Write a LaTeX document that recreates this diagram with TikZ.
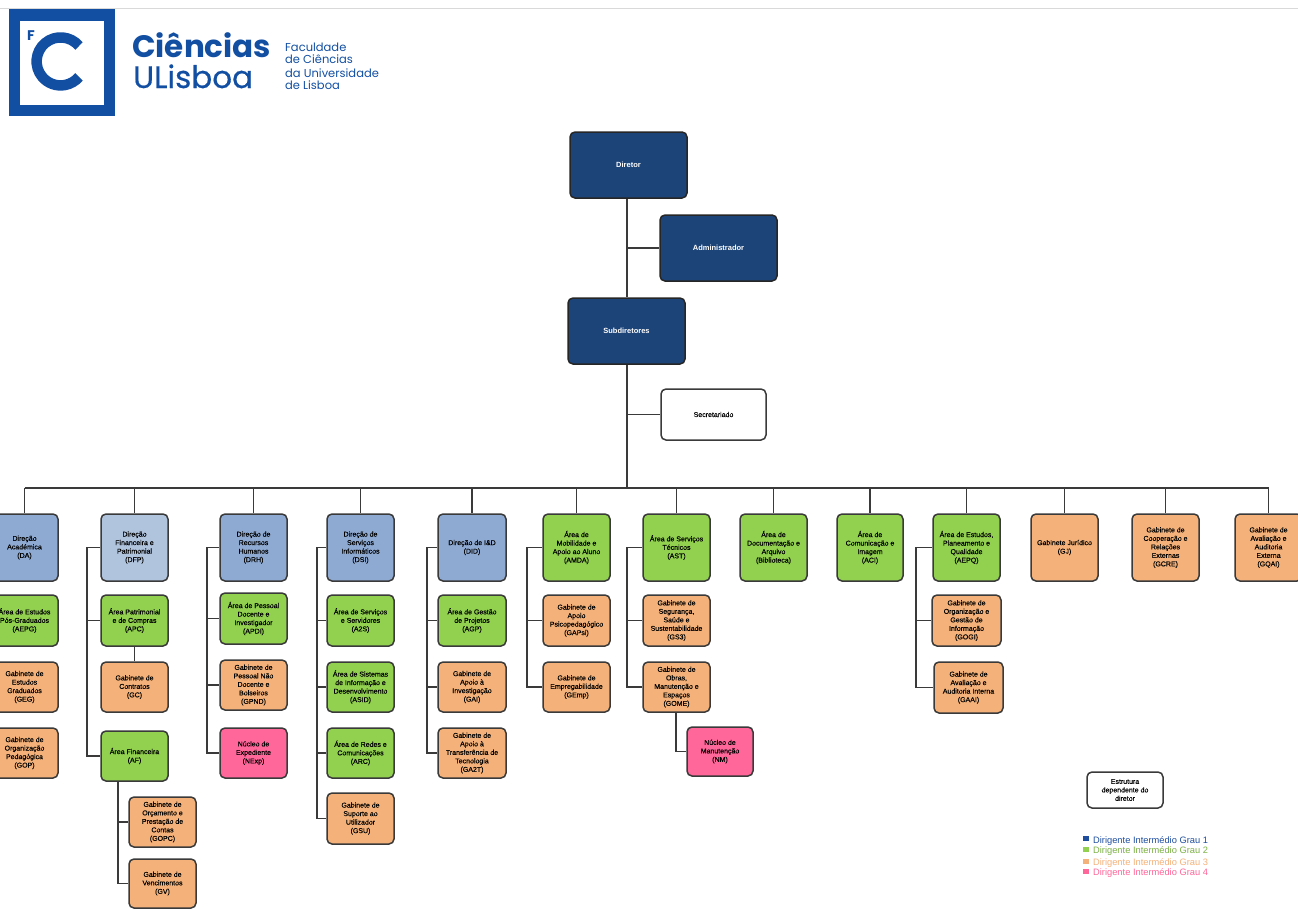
\documentclass[tikz,border=0pt]{standalone}
\usepackage{fontspec}
\setmainfont{Liberation Sans}
\newfontfamily\boxfont[FakeBold=0.25]{Liberation Sans}
\newfontfamily\logofont{Poppins}
\newfontfamily\logomed[FakeBold=0.5]{Poppins}
\definecolor{dkblue}{HTML}{1C4479}
\definecolor{midblue}{HTML}{8FAAD2}
\definecolor{ltblue}{HTML}{B0C4DE}
\definecolor{grn}{HTML}{92D050}
\definecolor{org}{HTML}{F4B27A}
\definecolor{pnk}{HTML}{FF6699}
\definecolor{ln}{HTML}{3A3A3A}
\definecolor{logoblue}{HTML}{124FA3}
\definecolor{lgblue}{HTML}{1F4E9F}
\tikzset{
  box/.style={draw=ln,line width=1.5pt,rounded corners=5pt,align=center,inner sep=0pt,
    font=\boxfont\fontsize{7}{8.5}\selectfont,text=black},
  top/.style={box,fill=dkblue,draw=black!85,text=white,font=\fontsize{7.5}{9}\selectfont\bfseries},
  dirb/.style={box,fill=midblue},
  dirl/.style={box,fill=ltblue},
  gb/.style={box,fill=grn},
  ob/.style={box,fill=org},
  pb/.style={box,fill=pnk},
  wb/.style={box,fill=white},
  conn/.style={draw=ln,line width=1.5pt},
  legend/.style={anchor=west,inner sep=0pt,font=\fontsize{9.3}{10}\selectfont},
  logotxt/.style={anchor=base west,inner sep=0pt,text=logoblue},
  logosmall/.style={logotxt,font=\logofont\fontsize{11.5}{12}\selectfont},
}
\newcommand{\bx}[7]{%
  \pgfmathsetmacro{\cxx}{(#3+#5)/2}\pgfmathsetmacro{\cyy}{(#4+#6)/2}%
  \pgfmathsetmacro{\wdd}{#5-#3}\pgfmathsetmacro{\htt}{#6-#4}%
  \node[#1,minimum width=\wdd pt,minimum height=\htt pt] (#2) at (\cxx,\cyy) {#7};}
% bus: #1 x of the bus, #2 parent, #3 comma list of children, #4 last child
\newcommand{\bus}[4]{%
  \coordinate (bx#2) at (#1,0);
  \draw[conn] (#2.west) -- (#2.west -| bx#2) -- (#4.west -| bx#2) -- (#4.west);
  \foreach \c in {#3} {\draw[conn] (\c.west -| bx#2) -- (\c.west);}}
\begin{document}
\begin{tikzpicture}[x=1pt,y=-1pt]
\useasboundingbox (0,0) rectangle (1298,908);
\clip (0,0) rectangle (1298,908);
\fill[white] (0,0) rectangle (1298,908);
\draw[black!15,line width=1pt] (0,8.5) -- (1298,8.5);
% logo
\fill[logoblue] (9,9) rectangle (115,116);
\fill[white] (20,21) rectangle (104,105);
\draw[logoblue,line width=10.5pt] (79,46) arc[start angle=-40,end angle=-320,radius=24];
\node[logotxt,font=\logofont\fontsize{14}{14}\selectfont\bfseries] (lf) at (27,40) {F};
\node[logotxt,font=\logofont\fontsize{31}{31}\selectfont\bfseries] (l1) at (132,57) {Ciências};
\node[logotxt,font=\logomed\fontsize{31}{31}\selectfont] (l2) at (133,88) {ULisboa};
\node[logosmall] (l3) at (285,51) {Faculdade};
\node[logosmall] (l4) at (285,63) {de Ciências};
\node[logosmall] (l5) at (285,77) {da Universidade};
\node[logosmall] (l6) at (285,89) {de Lisboa};
% top
\bx{top}{dir}{570}{132}{687}{198}{Diretor}
\bx{top}{adm}{660}{215}{777}{281}{Administrador}
\bx{top}{sub}{568}{298}{685}{364}{Subdiretores}
\bx{wb}{sec}{661}{389}{766}{440}{Secretariado}
% column 1
\bx{dirb}{da}{-9}{514}{58}{581}{Direção\\Académica\\(DA)}
\bx{gb}{aepg}{-9}{595}{58}{646}{Área de Estudos\\Pós-Graduados\\(AEPG)}
\bx{ob}{geg}{-9}{662}{58}{712}{Gabinete de\\Estudos\\Graduados\\(GEG)}
\bx{ob}{gop}{-9}{728}{58}{778}{Gabinete de\\Organização\\Pedagógica\\(GOP)}
% column 2
\bx{dirl}{dfp}{101}{514}{168}{581}{Direção\\Financeira e\\Patrimonial\\(DFP)}
\bx{gb}{apc}{101}{595}{168}{646}{Área Patrimonial\\e de Compras\\(APC)}
\bx{ob}{gc}{101}{662}{168}{712}{Gabinete de\\Contratos\\(GC)}
\bx{gb}{af}{101}{731}{168}{781}{Área Financeira\\(AF)}
\bx{ob}{gopc}{129}{797}{196}{847}{Gabinete de\\Orçamento e\\Prestação de\\Contas\\(GOPC)}
\bx{ob}{gv}{129}{859}{196}{908}{Gabinete de\\Vencimentos\\(GV)}
% column 3
\bx{dirb}{drh}{220}{514}{287}{581}{Direção de\\Recursos\\Humanos\\(DRH)}
\bx{gb}{apdi}{220}{593}{287}{644}{Área de Pessoal\\Docente e\\Investigador\\(APDI)}
\bx{ob}{gpnd}{220}{660}{287}{710}{Gabinete de\\Pessoal Não\\Docente e\\Bolseiros\\(GPND)}
\bx{pb}{nexp}{220}{728}{287}{778}{Núcleo de\\Expediente\\(NExp)}
% column 4
\bx{dirb}{dsi}{327}{514}{394}{581}{Direção de\\Serviços\\Informáticos\\(DSI)}
\bx{gb}{a2s}{327}{595}{394}{646}{Área de Serviços\\e Servidores\\(A2S)}
\bx{gb}{asid}{327}{662}{394}{712}{Área de Sistemas\\de Informação e\\Desenvolvimento\\(ASID)}
\bx{gb}{arc}{327}{728}{394}{778}{Área de Redes e\\Comunicações\\(ARC)}
\bx{ob}{gsu}{327}{793}{394}{844}{Gabinete de\\Suporte ao\\Utilizador\\(GSU)}
% column 5
\bx{dirb}{did}{438}{514}{506}{581}{Direção de I\&D\\(DID)}
\bx{gb}{agp}{438}{595}{506}{646}{Área de Gestão\\de Projetos\\(AGP)}
\bx{ob}{gai}{438}{662}{506}{712}{Gabinete de\\Apoio à\\Investigação\\(GAI)}
\bx{ob}{ga2t}{438}{728}{506}{778}{Gabinete de\\Apoio à\\Transferência de\\Tecnologia\\(GA2T)}
% column 6
\bx{gb}{amda}{543}{514}{610}{581}{Área de\\Mobilidade e\\Apoio ao Aluno\\(AMDA)}
\bx{ob}{gapsi}{543}{595}{610}{646}{Gabinete de\\Apoio\\Psicopedagógico\\(GAPsi)}
\bx{ob}{gemp}{543}{662}{610}{712}{Gabinete de\\Empregabilidade\\(GEmp)}
% column 7
\bx{gb}{ast}{643}{514}{710}{581}{Área de Serviços\\Técnicos\\(AST)}
\bx{ob}{gs3}{643}{595}{710}{646}{Gabinete de\\Segurança,\\Saúde e\\Sustentabilidade\\(GS3)}
\bx{ob}{gome}{643}{662}{710}{712}{Gabinete de\\Obras,\\Manutenção e\\Espaços\\(GOME)}
\bx{pb}{nm}{687}{727}{753}{776}{Núcleo de\\Manutenção\\(NM)}
% others
\bx{gb}{bib}{740}{514}{807}{581}{Área de\\Documentação e\\Arquivo\\(Biblioteca)}
\bx{gb}{aci}{837}{514}{903}{581}{Área de\\Comunicação e\\Imagem\\(ACI)}
\bx{gb}{aepq}{933}{514}{1000}{581}{Área de Estudos,\\Planeamento e\\Qualidade\\(AEPQ)}
\bx{ob}{gogi}{932}{595}{1001}{646}{Gabinete de\\Organização e\\Gestão de\\Informação\\(GOGI)}
\bx{ob}{gaai}{934}{662}{1003}{713}{Gabinete de\\Avaliação e\\Auditoria Interna\\(GAAI)}
\bx{ob}{gj}{1031}{514}{1098}{581}{Gabinete Jurídico\\(GJ)}
\bx{ob}{gcre}{1132}{514}{1199}{581}{Gabinete de\\Cooperação e\\Relações\\Externas\\(GCRE)}
\bx{ob}{gqai}{1235}{514}{1302}{581}{Gabinete de\\Avaliação e\\Auditoria\\Externa\\(GQAI)}
\bx{wb}{est}{1087}{772}{1163}{808}{Estrutura\\dependente do\\diretor}
% trunk
\coordinate (trunk) at (627,488);
\draw[conn] (dir.south -| trunk) -- (sub.north -| trunk);
\draw[conn] (adm.west -| trunk) -- (adm.west);
\draw[conn] (sub.south -| trunk) -- (trunk);
\draw[conn] (sec.west -| trunk) -- (sec.west);
\draw[conn] (trunk -| da.north) -- (trunk -| gqai.north);
\foreach \n in {da,dfp,drh,dsi,did,amda,ast,bib,aci,aepq,gj,gcre,gqai}
  {\draw[conn] (trunk -| \n.north) -- (\n.north);}
% buses
\bus{87}{dfp}{apc}{af}
\draw[conn] (apc.south) -- (gc.north);
\coordinate (afb) at (118,0);
\draw[conn] (af.south -| afb) -- (gv.west -| afb) -- (gv.west);
\draw[conn] (gopc.west -| afb) -- (gopc.west);
\bus{207}{drh}{apdi,gpnd}{nexp}
\bus{317}{dsi}{a2s,asid,arc}{gsu}
\bus{427}{did}{agp,gai}{ga2t}
\bus{527}{amda}{gapsi}{gemp}
\bus{627}{ast}{gs3}{gome}
\bus{916}{aepq}{gogi}{gaai}
\coordinate (nmb) at (676,0);
\draw[conn] (gome.south -| nmb) -- (nm.west -| nmb) -- (nm.west);
% legend
\fill[lgblue] (1083,836) rectangle (1089,841);
\fill[grn] (1083,847) rectangle (1089,852);
\fill[org] (1083,859) rectangle (1089,864);
\fill[pnk] (1083,869) rectangle (1089,874);
\node[legend,text=lgblue] (lg1) at (1093,841) {Dirigente Intermédio Grau 1};
\node[legend,text=grn!85!black] (lg2) at (1093,851) {Dirigente Intermédio Grau 2};
\node[legend,text=org] (lg3) at (1093,863) {Dirigente Intermédio Grau 3};
\node[legend,text=pnk] (lg4) at (1093,873) {Dirigente Intermédio Grau 4};
\end{tikzpicture}
\end{document}
